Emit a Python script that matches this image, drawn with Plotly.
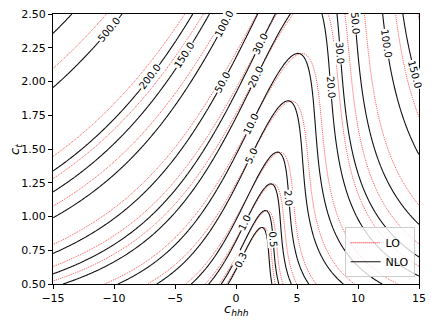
import numpy as np
import plotly.graph_objects as go

# contour levels of sigma/sigma_SM
levels = [0.3, 0.5, 1.0, 2.0, 5.0, 10.0, 20.0, 30.0, 50.0, 100.0, 150.0, 200.0, 500.0, 800.0]

# sigma/sigma_SM = A*ct^4 + B*ct^3*chhh + C*ct^2*chhh^2, coefficients
lo_coef = [2.077, -1.352, 0.276]
nlo_coef = [2.219, -1.564, 0.340]

# inline labels on the NLO contours (value, rough chhh, rough ct)
label_values = [500.0, 200.0, 150.0, 100.0, 50.0, 30.0, 20.0, 10.0, 5.0, 2.0, 1.0, 0.5, 0.3,
                50.0, 30.0, 20.0, 100.0, 150.0]
label_chhh = [-10.35, -7.07, -4.2, -0.98, -1.11, 2.02, 1.61, 1.2, 1.1, 4.4, 0.74, 3.03, 0.25,
              9.8, 8.57, 7.75, 12.27, 14.5]
label_ct = [2.38, 2.036, 2.197, 2.43, 1.99, 2.28, 2.036, 1.69, 1.46, 1.137, 0.952, 0.83, 0.68,
            2.43, 2.21, 1.96, 2.28, 2.05]

chhh = np.linspace(-15, 15, 361)
ct = np.linspace(0.5, 2.5, 241)
X, Y = np.meshgrid(chhh, ct)


def ratio(c, x, y):
    return c[0] * y**4 + c[1] * y**3 * x + c[2] * y**2 * x**2


def grad(c, x, y):
    gx = c[1] * y**3 + 2 * c[2] * y**2 * x
    gy = 4 * c[0] * y**3 + 3 * c[1] * y**2 * x + 2 * c[2] * y * x**2
    return gx, gy


# pixels per data unit of the plot area
sx = 366 / 30.0
sy = 270 / 2.0

fig = go.Figure()

for coef, color, dash, width in [
    (lo_coef, "rgba(255,0,0,0.8)", "1px,1px", 0.9),
    (nlo_coef, "#111111", "solid", 1.1),
]:
    z = ratio(coef, X, Y)
    for lev in levels:
        fig.add_trace(
            go.Contour(
                x=chhh,
                y=ct,
                z=z,
                contours=dict(coloring="none", start=lev, end=lev, size=1),
                line=dict(color=color, dash=dash, width=width, smoothing=1),
                showscale=False,
                hoverinfo="skip",
                showlegend=False,
            )
        )

# put the labels onto their contour and turn them along it
for val, x0, y0 in zip(label_values, label_chhh, label_ct):
    x, y = x0, y0
    for _ in range(30):
        f = np.log(ratio(nlo_coef, x, y)) - np.log(val)
        gx, gy = grad(nlo_coef, x, y)
        r = ratio(nlo_coef, x, y)
        px, py = gx / r / sx, gy / r / sy
        n2 = px**2 + py**2
        x -= f * px / n2 / sx
        y -= f * py / n2 / sy
    gx, gy = grad(nlo_coef, x, y)
    ang = np.degrees(np.arctan2(-gx * sy, -gy * sx))
    if ang > 90:
        ang -= 180
    if ang <= -90:
        ang += 180
    fig.add_annotation(
        x=x, y=y, text=f"{val:.1f}", showarrow=False, textangle=ang,
        font=dict(size=10, color="black"), bgcolor="white", borderpad=0,
    )

# axis titles
fig.add_annotation(x=0.5, y=-0.096, xref="paper", yref="paper", showarrow=False,
                   text="<i>c<sub>hhh</sub></i>", font=dict(size=13), yanchor="middle")
fig.add_annotation(x=-0.104, y=0.5, xref="paper", yref="paper", showarrow=False,
                   text="<i>c<sub>t</sub></i>", font=dict(size=13), textangle=-90,
                   xanchor="center")

fig.add_trace(go.Scatter(x=[None], y=[None], mode="lines", name="LO",
                         line=dict(color="red", dash="1px,1px", width=1)))
fig.add_trace(go.Scatter(x=[None], y=[None], mode="lines", name="NLO",
                         line=dict(color="#111111", width=1.2)))

fig.update_layout(
    width=436,
    height=327,
    margin=dict(l=53, r=17, t=14, b=43),
    plot_bgcolor="white",
    paper_bgcolor="white",
    font=dict(family="DejaVu Sans", size=11, color="black"),
    legend=dict(x=0.988, y=0.025, xanchor="right", yanchor="bottom",
                bordercolor="#cccccc", borderwidth=1, bgcolor="rgba(255,255,255,0.8)",
                font=dict(size=11), tracegroupgap=0),
)
fig.update_xaxes(
    range=[-15, 15], tickvals=[-15, -10, -5, 0, 5, 10, 15], automargin=False,
    showline=True, linecolor="black", linewidth=1, mirror=True,
    ticks="outside", ticklen=4, tickcolor="black", showgrid=False, zeroline=False,
)
fig.update_yaxes(
    range=[0.5, 2.5], tickvals=[0.5, 0.75, 1.0, 1.25, 1.5, 1.75, 2.0, 2.25, 2.5],
    tickformat=".2f", automargin=False,
    showline=True, linecolor="black", linewidth=1, mirror=True,
    ticks="outside", ticklen=4, tickcolor="black", showgrid=False, zeroline=False,
)

# drop the default page margin so the figure sits at the window's corner
fig.write_html("out.html", config={"displayModeBar": False},
               post_script="document.body.style.margin='0px';")
